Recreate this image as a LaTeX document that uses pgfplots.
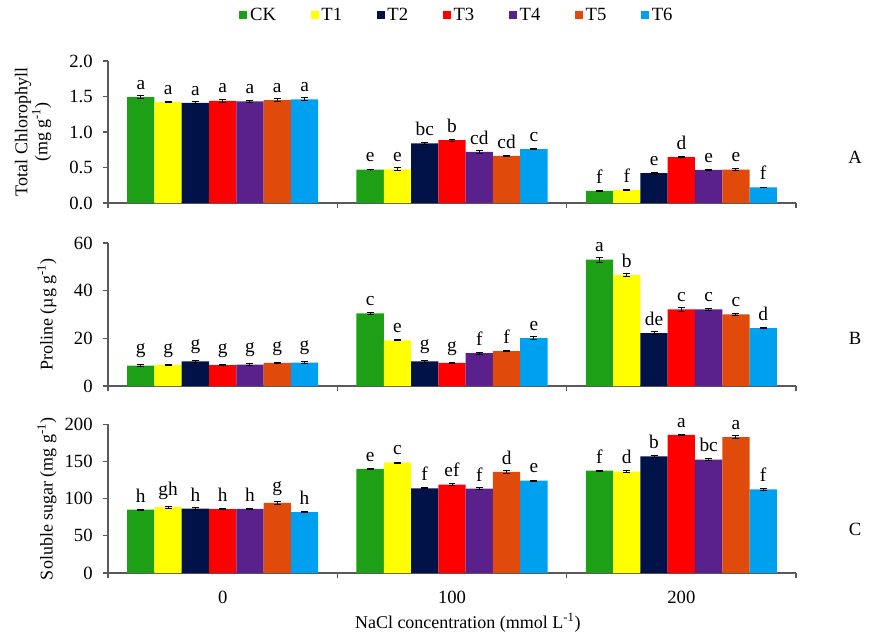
\documentclass[border=0pt]{standalone}
\usepackage{fontspec}
\setmainfont{Liberation Serif}
\usepackage{pgfplots}
\usepackage{pgfplotstable}
\pgfplotsset{compat=1.18}
\definecolor{cCK}{RGB}{30,160,22}
\definecolor{cT1}{RGB}{255,255,0}
\definecolor{cT2}{RGB}{0,18,72}
\definecolor{cT3}{RGB}{255,0,0}
\definecolor{cT4}{RGB}{90,32,140}
\definecolor{cT5}{RGB}{224,74,10}
\definecolor{cT6}{RGB}{0,160,240}
\definecolor{axgray}{RGB}{90,90,90}

\pgfplotstableread{
x CK CKe CKl T1 T1e T1l T2 T2e T2l T3 T3e T3l T4 T4e T4l T5 T5e T5l T6 T6e T6l
0 1.49 0.02 a 1.42 0.008 a 1.41 0.015 a 1.44 0.02 a 1.43 0.02 a 1.45 0.02 a 1.46 0.02 a
1 0.47 0.005 e 0.475 0.02 e 0.84 0.01 bc 0.885 0.012 b 0.72 0.018 cd 0.665 0.008 cd 0.76 0.008 c
2 0.17 0.008 f 0.18 0.01 f 0.42 0.015 e 0.645 0.005 d 0.465 0.008 e 0.47 0.01 e 0.22 0.005 f
}\tabA
\pgfplotstableread{
x CK CKe CKl T1 T1e T1l T2 T2e T2l T3 T3e T3l T4 T4e T4l T5 T5e T5l T6 T6e T6l
0 8.6 0.3 g 8.9 0.2 g 10.3 0.4 g 8.8 0.2 g 9.0 0.4 g 9.7 0.2 g 9.8 0.3 g
1 30.5 0.4 c 19.2 0.15 e 10.3 0.3 g 9.7 0.2 g 13.8 0.4 f 14.6 0.3 f 20.1 0.6 e
2 53.0 1.0 a 46.5 0.7 b 22.2 0.6 de 32.2 0.8 c 32.2 0.4 c 30.1 0.5 c 24.3 0.3 d
}\tabB
\pgfplotstableread{
x CK CKe CKl T1 T1e T1l T2 T2e T2l T3 T3e T3l T4 T4e T4l T5 T5e T5l T6 T6e T6l
0 85.2 0.6 h 88.5 1.6 gh 86.5 1.5 h 86.0 1.0 h 86.3 0.8 h 94.3 1.8 g 81.8 0.7 h
1 140.0 0.6 e 148.4 0.5 c 113.9 0.6 f 118.8 1.2 ef 113.5 1.2 f 136.0 2.0 d 124.2 0.8 e
2 137.7 0.8 f 136.3 1.0 d 156.8 1.5 b 185.8 0.5 a 152.5 1.5 bc 182.8 2.5 a 112.5 1.2 f
}\tabC

\pgfplotsset{
  panel/.style={
    scale only axis, width=516pt, xmin=-0.5, xmax=2.5, ymin=0,
    axis x line*=bottom, axis y line*=left,
    axis line style={axgray, line width=0.8pt},
    xtick={-0.5,0.5,1.5,2.5}, x tick label as interval,
    tick align=outside, major tick length=4pt,
    tick style={axgray, line width=0.8pt},
    ybar=0pt, bar width=0.119,
    nodes near coords, point meta=explicit symbolic,
    nodes near coords style={font=\fontsize{14.5}{16}\selectfont, anchor=south, yshift=3.5pt, text=black, inner sep=2pt},
    /pgf/number format/assume math mode=true,
    ticklabel style={font=\fontsize{14}{16}\selectfont},
    yticklabel style={xshift=-4pt},
    label style={font=\fontsize{13.5}{15}\selectfont},
    error bars/error bar style={draw=black, solid, line width=0.75pt},
    error bars/error mark options={draw=black, rotate=90, mark size=2.6pt, line width=0.75pt},
    clip=false,
  },
  bars/.style={fill=#1, draw=none, error bars/.cd, y dir=both, y explicit},
}

\newcommand{\seven}[1]{%
  \addplot[bars=cCK] table[x=x, y=CK, y error=CKe, meta=CKl] {#1};
  \addplot[bars=cT1] table[x=x, y=T1, y error=T1e, meta=T1l] {#1};
  \addplot[bars=cT2] table[x=x, y=T2, y error=T2e, meta=T2l] {#1};
  \addplot[bars=cT3] table[x=x, y=T3, y error=T3e, meta=T3l] {#1};
  \addplot[bars=cT4] table[x=x, y=T4, y error=T4e, meta=T4l] {#1};
  \addplot[bars=cT5] table[x=x, y=T5, y error=T5e, meta=T5l] {#1};
  \addplot[bars=cT6] table[x=x, y=T6, y error=T6e, meta=T6l] {#1};
}

\begin{document}
\begin{tikzpicture}[font=\fontsize{14}{16}\selectfont]
\path[use as bounding box] (0,0) rectangle (655.5pt,-474.75pt);

\begin{axis}[panel, at={(81pt,-152.25pt)}, anchor=south west, height=106.5pt,
  ymax=2, ytick={0,0.5,...,2},
  yticklabel style={/pgf/number format/.cd, fixed, fixed zerofill, precision=1},
  xticklabels={,,},
  ylabel={Total Chlorophyll\\(mg g\textsuperscript{-1})},
  ylabel style={align=center, at={(axis description cs:-0.109,0.5)}, anchor=center},
  legend columns=7,
  legend style={draw=none, at={(0.5,1)}, anchor=center, yshift=34.5pt, xshift=4pt, font=\fontsize{14}{16}\selectfont,
    /tikz/every even column/.append style={column sep=24pt}},
  legend image code/.code={\draw[#1, draw=none] (0pt,-3pt) rectangle (6pt,3pt);},
]
\seven{\tabA}
\legend{CK,T1,T2,T3,T4,T5,T6}
\end{axis}

\begin{axis}[panel, at={(81pt,-289.5pt)}, anchor=south west, height=107.25pt,
  ymax=60, ytick={0,20,40,60},
  xticklabels={,,},
  ylabel={Proline (\textmu g g\textsuperscript{-1})},
  ylabel style={at={(axis description cs:-0.0887,0.5)}, anchor=center},
]
\seven{\tabB}
\end{axis}

\begin{axis}[panel, at={(81pt,-429.75pt)}, anchor=south west, height=111.5pt,
  ymax=200, ytick={0,50,...,200},
  xticklabels={0,100,200},
  xticklabel style={yshift=-6pt},
  ylabel={Soluble sugar (mg g\textsuperscript{-1})},
  ylabel style={at={(axis description cs:-0.0887,0.5)}, anchor=center},
  xlabel={NaCl concentration (mmol L\textsuperscript{-1})},
  xlabel style={at={(axis description cs:0.523,0)}, anchor=center, yshift=-37.5pt},
]
\seven{\tabC}
\end{axis}

\node at (641.25pt,-117.75pt) {A};
\node at (641.25pt,-253.5pt) {B};
\node at (641.25pt,-396.75pt) {C};
\end{tikzpicture}
\end{document}
